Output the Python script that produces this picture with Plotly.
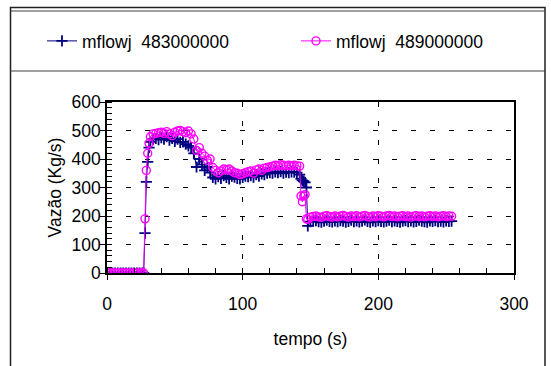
import plotly.graph_objects as go

# ---- data ----
tempo = [0, 2, 4, 6, 8, 10, 12, 14, 16, 18, 20, 22, 24, 26, 27, 28, 29, 30, 31, 32,
         34, 36, 38, 40, 42, 44, 46, 48, 50, 52, 54, 56, 58, 60, 62, 64, 66, 68, 70,
         72, 74, 76, 78, 80, 82, 84, 86, 88, 90, 92, 94, 96, 98, 100, 102, 104, 106,
         108, 110, 112, 114, 116, 118, 120, 122, 124, 126, 128, 130, 132, 134, 136,
         138, 140, 142, 143, 144, 145, 146, 147, 148,
         150, 152, 154, 156, 158, 160, 162, 164, 166, 168, 170, 172, 174, 176, 178,
         180, 182, 184, 186, 188, 190, 192, 194, 196, 198, 200, 202, 204, 206, 208,
         210, 212, 214, 216, 218, 220, 222, 224, 226, 228, 230, 232, 234, 236, 238,
         240, 242, 244, 246, 248, 250, 252, 254]

mflowj_483 = [0, 0, 0, 0, 0, 0, 0, 0, 0, 0, 0, 0, 0, 0, 0, 140, 320, 390, 440, 460,
              470, 472, 468, 475, 470, 478, 466, 472, 462, 470, 458, 460, 452, 446, 440, 420, 372, 400, 380,
              360, 372, 352, 335, 330, 338, 332, 342, 335, 330, 340, 336, 332, 330, 335, 340, 338, 342,
              336, 345, 340, 348, 345, 350, 352, 350, 355, 352, 356, 350, 354, 352, 355,
              354, 352, 345, 330, 325, 322, 318, 300, 165,
              180, 182, 184, 180, 178, 182, 185, 181, 179, 183, 180, 184, 182, 178, 181,
              185, 180, 183, 179, 182, 186, 181, 178, 183, 180, 184, 181, 179, 182, 185,
              180, 183, 181, 178, 182, 184, 180, 183, 179, 181, 185, 182, 180, 178, 183,
              181, 184, 180, 182, 179, 183, 181, 182]

mflowj_489 = [0, 0, 0, 0, 0, 0, 0, 0, 0, 0, 0, 0, 0, 0, 0, 190, 360, 420, 455, 478,
              488, 490, 492, 494, 490, 496, 488, 482, 494, 498, 500, 496, 492, 498, 488, 470, 430, 440, 420,
              410, 395, 400, 370, 360, 352, 358, 365, 362, 365, 358, 352, 350, 345, 348, 352, 355, 358,
              350, 362, 365, 360, 368, 370, 372, 375, 378, 376, 380, 378, 376, 378, 376,
              378, 376, 375, 270, 250, 270, 275, 190, 188,
              196, 198, 200, 197, 195, 199, 201, 198, 196, 200, 197, 199, 202, 198, 196,
              200, 198, 201, 197, 199, 202, 198, 196, 200, 198, 201, 199, 197, 200, 202,
              198, 200, 197, 199, 201, 198, 200, 196, 199, 201, 198, 200, 197, 199, 201,
              198, 200, 197, 199, 201, 198, 200, 199]

series_names = ["mflowj\u00a0 483000000", "mflowj\u00a0 489000000"]
x_ticks = [0, 100, 200, 300]
y_ticks = [0, 100, 200, 300, 400, 500, 600]

assert len(tempo) == len(mflowj_483) == len(mflowj_489)

FONT = "Liberation Sans, Arial, sans-serif"
FS = 17.5
NAVY = "#000080"
MAGENTA = "#FF00FF"

fig = go.Figure()
fig.add_trace(go.Scatter(
    x=tempo, y=mflowj_483, name=series_names[0], mode="lines+markers",
    line=dict(color=NAVY, width=1),
    marker=dict(symbol="cross-thin", size=8, color=NAVY, line=dict(color=NAVY, width=1.8)),
    legend="legend",
))
fig.add_trace(go.Scatter(
    x=tempo, y=mflowj_489, name=series_names[1], mode="lines+markers",
    line=dict(color=MAGENTA, width=1),
    marker=dict(symbol="circle-open", size=8, color=MAGENTA, line=dict(color=MAGENTA, width=1.4)),
    legend="legend2",
))

# plot area in px: x 107..514, y 102..273
L, R, T, B = 107, 514, 102, 273
W, H = R - L, B - T

def px(xp):
    return (xp - L) / W

def py(yp):
    return (B - yp) / H

axis_common = dict(
    showline=True, linecolor="black", linewidth=1.5, mirror=True,
    ticks="outside", ticklen=5, tickwidth=1.2, tickcolor="black",
    showgrid=True, gridcolor="black", gridwidth=1, griddash="5px,14px",
    zeroline=False,
    tickfont=dict(family=FONT, size=FS, color="black"),
    title_font=dict(family=FONT, size=FS, color="black"),
)

fig.update_xaxes(
    range=[0, 300], tickvals=x_ticks, ticktext=[str(v) for v in x_ticks],
    minor=dict(ticks="inside", dtick=20, ticklen=5, tickcolor="black", showgrid=False),
    title_text="tempo (s)", title_standoff=20, ticklabelstandoff=9,
    **axis_common,
)
fig.update_yaxes(
    range=[0, 600], tickvals=y_ticks, ticktext=[str(v) for v in y_ticks],
    minor=dict(ticks="inside", dtick=20, ticklen=5, tickcolor="black", showgrid=False),
    title_text="Vazão (Kg/s)", title_standoff=5, ticklabelstandoff=-4,
    **axis_common,
)

legend_common = dict(
    orientation="h", yanchor="middle", xanchor="left", y=py(41),
    bgcolor="rgba(0,0,0,0)", borderwidth=0,
    font=dict(family=FONT, size=FS, color="black"),
)

shapes = [
    # outer chart frame
    dict(type="rect", xref="paper", yref="paper", x0=px(10.5), x1=px(545), y0=py(7.5), y1=py(380),
         line=dict(color="#202020", width=1.5)),
    # legend box
    dict(type="line", xref="paper", yref="paper", x0=px(10.5), x1=px(545), y0=py(11), y1=py(11),
         line=dict(color="#404040", width=1.2)),
    dict(type="line", xref="paper", yref="paper", x0=px(10.5), x1=px(545), y0=py(71), y1=py(71),
         line=dict(color="#404040", width=1.2)),
]

fig.update_layout(
    width=551, height=366,
    margin=dict(l=L, r=551 - R, t=T, b=366 - B, autoexpand=False),
    paper_bgcolor="white", plot_bgcolor="white",
    font=dict(family=FONT, size=FS, color="black"),
    legend=dict(x=px(42), **legend_common),
    legend2=dict(x=px(296), **legend_common),
    shapes=shapes,
    showlegend=True,
)

fig.write_html("out.html")
